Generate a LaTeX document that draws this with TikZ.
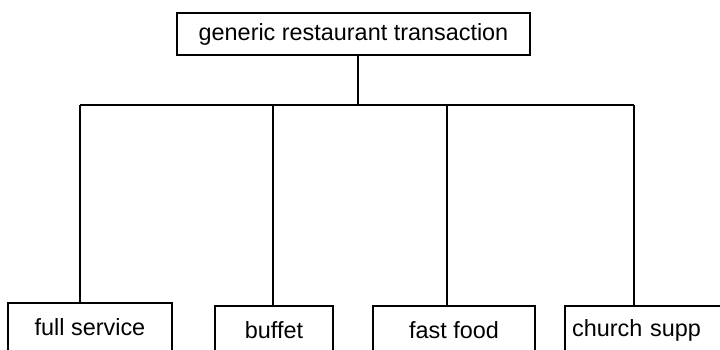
\documentclass[tikz,border=0pt]{standalone}
\usepackage{fontspec}
\setmainfont{Liberation Sans}
\begin{document}
\begin{tikzpicture}[x=1pt,y=-1pt,
  every node/.style={font=\fontsize{23.4}{28}\selectfont},
  box/.style={draw, line width=2.4pt, rectangle, inner sep=0pt},
  wire/.style={line width=2.4pt}]
\useasboundingbox[clip] (0,0) rectangle (720,349);
% root
\node[box, minimum width=353, minimum height=42] (root) at (353.5,34) {generic restaurant transaction};
% leaves
\node[box, minimum width=164, minimum height=48] (full) at (90,327) {full service};
\node[box, minimum width=118, minimum height=48] (buffet) at (274,330) {buffet};
\node[box, minimum width=162, minimum height=48] (fast) at (454,330) {fast food};
\node[box, minimum height=48, text width=182, inner xsep=7, align=left, anchor=west] (church) at (564,330) {church supp};
% bus junctions
\coordinate (hub) at (358,105);
\coordinate (j1) at (80,105);
\coordinate (j2) at (273,105);
\coordinate (j3) at (447,105);
\coordinate (j4) at (634,105);
% connectors
\draw[wire] (root.south -| hub) -- (hub);
\draw[wire] (j1) -- (j4);
\draw[wire] (j1) -- (j1 |- full.north);
\draw[wire] (j2) -- (j2 |- buffet.north);
\draw[wire] (j3) -- (j3 |- fast.north);
\draw[wire] (j4) -- (j4 |- church.north);
\end{tikzpicture}
\end{document}
